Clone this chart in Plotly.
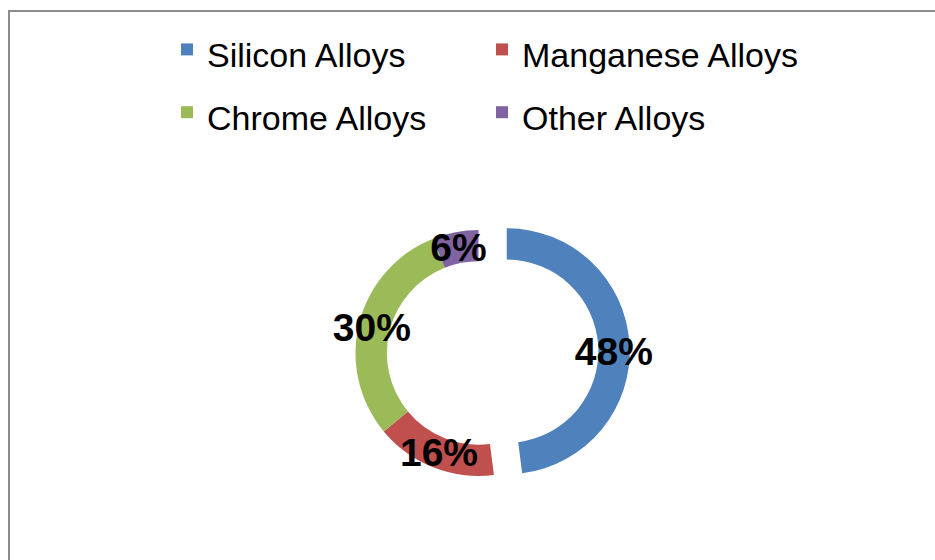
import plotly.graph_objects as go

categories = ["Silicon Alloys", "Manganese Alloys", "Chrome Alloys", "Other Alloys"]
shares = [48, 16, 30, 6]
colors = ["#4F81BD", "#C0504D", "#9BBB59", "#8064A2"]
pulls = [0.23, 0, 0, 0]

W, H = 935, 560

# pie geometry (pixels)
cx, cy, r_out, pull_max = 478.5, 353.0, 123.0, 0.23
half = r_out * (1 + pull_max)

legend_names = ['<span style="font-size:34px">%s</span>' % c for c in categories]
label_templates = ["%{percent:.0%}", "%{percent:.0%}", "%{percent:.0%}<br>&nbsp;", "%{percent:.0%}"]

fig = go.Figure(go.Pie(
    labels=legend_names,
    values=shares,
    marker=dict(colors=colors, line=dict(width=0)),
    pull=pulls,
    hole=0.745,
    sort=False,
    direction="clockwise",
    rotation=0,
    texttemplate=label_templates,
    textposition="inside",
    insidetextorientation="horizontal",
    textfont=dict(family="Liberation Sans", size=39, color="black", weight="bold"),
    hoverinfo="label+percent",
    domain=dict(x=[(cx - half) / W, (cx + half) / W],
                y=[1 - (cy + half) / H, 1 - (cy - half) / H]),
))

fig.update_layout(
    width=W, height=H,
    margin=dict(l=0, r=0, t=0, b=0),
    paper_bgcolor="white",
    plot_bgcolor="white",
    uniformtext=dict(minsize=39, mode="show"),
    showlegend=True,
    legend=dict(
        orientation="h",
        x=167 / W, xanchor="left",
        y=1 - 13 / H, yanchor="top",
        entrywidth=270, entrywidthmode="pixels",
        font=dict(family="Liberation Sans", size=46, color="black"),
        bgcolor="rgba(0,0,0,0)",
        traceorder="normal",
    ),
    shapes=[dict(type="rect", xref="paper", yref="paper",
                 x0=9 / W, x1=1.02, y0=-0.02, y1=1 - 11 / H,
                 line=dict(color="#8c8c8c", width=2), fillcolor="rgba(0,0,0,0)")],
)

fig.write_html("out.html",
               config={"displayModeBar": False},
               post_script="document.body.style.margin='0';document.body.style.overflow='hidden';")
